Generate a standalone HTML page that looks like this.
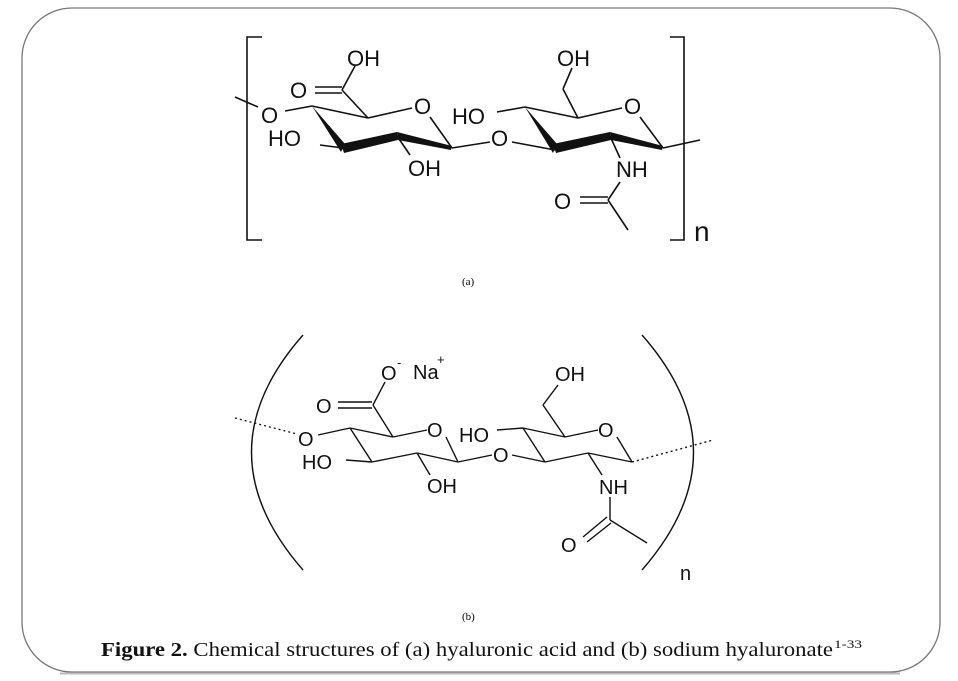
<!DOCTYPE html>
<html><head><meta charset="utf-8"><style>
html,body{margin:0;padding:0;background:#fff;}
svg{display:block;}
.a{font-family:"Liberation Sans",sans-serif;font-size:22px;fill:#111;}
.b{font-family:"Liberation Sans",sans-serif;font-size:20px;fill:#111;}
</style></head><body>
<svg width="958" height="681" viewBox="0 0 958 681" xmlns="http://www.w3.org/2000/svg">
<rect x="22" y="8" width="918" height="664" rx="50" ry="50" fill="none" stroke="#777" stroke-width="1.3"/>
<line x1="60" y1="673.5" x2="900" y2="673.5" stroke="#bbb" stroke-width="2"/>
<!-- (a) -->
<g stroke="#111" stroke-width="1.6" fill="none">
<path d="M262,37 H247 V240 H262"/>
<path d="M670,37 H684 V240 H670"/>
<line x1="235" y1="97" x2="258" y2="107"/>
<line x1="285" y1="111" x2="312" y2="106"/>
<line x1="312" y1="106" x2="368" y2="118"/>
<line x1="368" y1="118" x2="412" y2="108"/>
<line x1="430" y1="117" x2="452" y2="148"/>
<line x1="343" y1="148" x2="320" y2="145"/>
<line x1="397" y1="136" x2="410" y2="155"/>
<line x1="368" y1="118" x2="342" y2="90"/>
<line x1="315" y1="87" x2="342" y2="87"/>
<line x1="315" y1="93" x2="342" y2="93"/>
<line x1="342" y1="90" x2="355" y2="66"/>
<line x1="452" y1="148" x2="490" y2="142"/>
<line x1="512" y1="142" x2="555" y2="150"/>
<line x1="497" y1="112" x2="525" y2="107"/>
<line x1="525" y1="107" x2="578" y2="118"/>
<line x1="578" y1="118" x2="622" y2="108"/>
<line x1="640" y1="117" x2="663" y2="148"/>
<line x1="578" y1="118" x2="563" y2="89"/>
<line x1="563" y1="89" x2="572" y2="68"/>
<line x1="610" y1="136" x2="620" y2="158"/>
<line x1="620" y1="182" x2="608" y2="200"/>
<line x1="580" y1="197" x2="608" y2="197"/>
<line x1="580" y1="203" x2="608" y2="203"/>
<line x1="608" y1="200" x2="628" y2="230"/>
<line x1="663" y1="148" x2="700" y2="140"/>
</g>
<g fill="#111">
<polygon points="312,106 345,144 341,152"/>
<path d="M341,144 L397,132 L398,140 L344,153 Z"/>
<path d="M397,132 L452,146 L451,150 L398,140 Z"/>
<polygon points="525,107 557,144 553,153"/>
<path d="M553,144 L610,132 L611,140 L556,153 Z"/>
<path d="M610,132 L663,146 L662,150 L611,140 Z"/>
</g>
<g class="a">
<text x="261" y="123">O</text>
<text x="268" y="146">HO</text>
<text x="347" y="66">OH</text>
<text x="290" y="98">O</text>
<text x="414" y="114">O</text>
<text x="408" y="176">OH</text>
<text x="491" y="146">O</text>
<text x="452" y="124">HO</text>
<text x="557" y="66">OH</text>
<text x="624" y="114">O</text>
<text x="616" y="177">NH</text>
<text x="554" y="209">O</text>
<text x="694" y="241" style="font-size:28px">n</text>
</g>
<text x="462" y="285" font-family="Liberation Serif,serif" font-size="11">(a)</text>
<!-- (b) -->
<g stroke="#111" stroke-width="1.4" fill="none">
<path d="M303,335 Q200,452 303,570"/>
<path d="M642,335 Q745,452 642,570"/>
<line x1="235" y1="418" x2="297" y2="434" stroke-dasharray="2,3"/>
<line x1="632" y1="462" x2="713" y2="440" stroke-dasharray="2,3"/>
<line x1="318" y1="435" x2="350" y2="428"/>
<line x1="350" y1="428" x2="393" y2="437"/>
<line x1="393" y1="437" x2="427" y2="430"/>
<line x1="446" y1="437" x2="458" y2="462"/>
<line x1="458" y1="462" x2="417" y2="453"/>
<line x1="417" y1="453" x2="372" y2="462"/>
<line x1="372" y1="462" x2="350" y2="428"/>
<line x1="372" y1="462" x2="346" y2="460"/>
<line x1="417" y1="453" x2="430" y2="475"/>
<line x1="393" y1="437" x2="373" y2="405"/>
<line x1="338" y1="402" x2="372" y2="402"/>
<line x1="338" y1="408" x2="372" y2="408"/>
<line x1="373" y1="405" x2="385" y2="382"/>
<line x1="458" y1="462" x2="492" y2="455"/>
<line x1="512" y1="455" x2="545" y2="462"/>
<line x1="497" y1="430" x2="523" y2="428"/>
<line x1="523" y1="428" x2="565" y2="437"/>
<line x1="565" y1="437" x2="598" y2="430"/>
<line x1="617" y1="437" x2="632" y2="462"/>
<line x1="632" y1="462" x2="588" y2="453"/>
<line x1="588" y1="453" x2="545" y2="462"/>
<line x1="545" y1="462" x2="523" y2="428"/>
<line x1="565" y1="437" x2="543" y2="405"/>
<line x1="543" y1="405" x2="558" y2="385"/>
<line x1="588" y1="453" x2="602" y2="475"/>
<line x1="610" y1="497" x2="610" y2="520"/>
<line x1="610" y1="520" x2="647" y2="543"/>
<line x1="583" y1="537" x2="607" y2="517"/>
<line x1="587" y1="542" x2="611" y2="523"/>
</g>
<g class="b">
<text x="298" y="446">O</text>
<text x="302" y="469">HO</text>
<text x="316" y="413">O</text>
<text x="381" y="380">O</text>
<text x="397" y="367" style="font-size:13px">-</text>
<text x="413" y="379">Na</text>
<text x="437" y="364" style="font-size:13px">+</text>
<text x="427" y="437">O</text>
<text x="427" y="493">OH</text>
<text x="493" y="462">O</text>
<text x="459" y="442">HO</text>
<text x="555" y="381">OH</text>
<text x="598" y="437">O</text>
<text x="599" y="494">NH</text>
<text x="561" y="552">O</text>
<text x="680" y="580">n</text>
</g>
<text x="462" y="620" font-family="Liberation Serif,serif" font-size="11">(b)</text>
<text x="101" y="656" font-family="Liberation Serif,serif" font-size="20" fill="#111" textLength="732" lengthAdjust="spacingAndGlyphs"><tspan font-weight="bold">Figure 2.</tspan> Chemical structures of (a) hyaluronic acid and (b) sodium hyaluronate</text>
<text x="834" y="648" font-family="Liberation Serif,serif" font-size="12" fill="#111" textLength="28" lengthAdjust="spacingAndGlyphs">1-33</text>
</svg>
</body></html>
